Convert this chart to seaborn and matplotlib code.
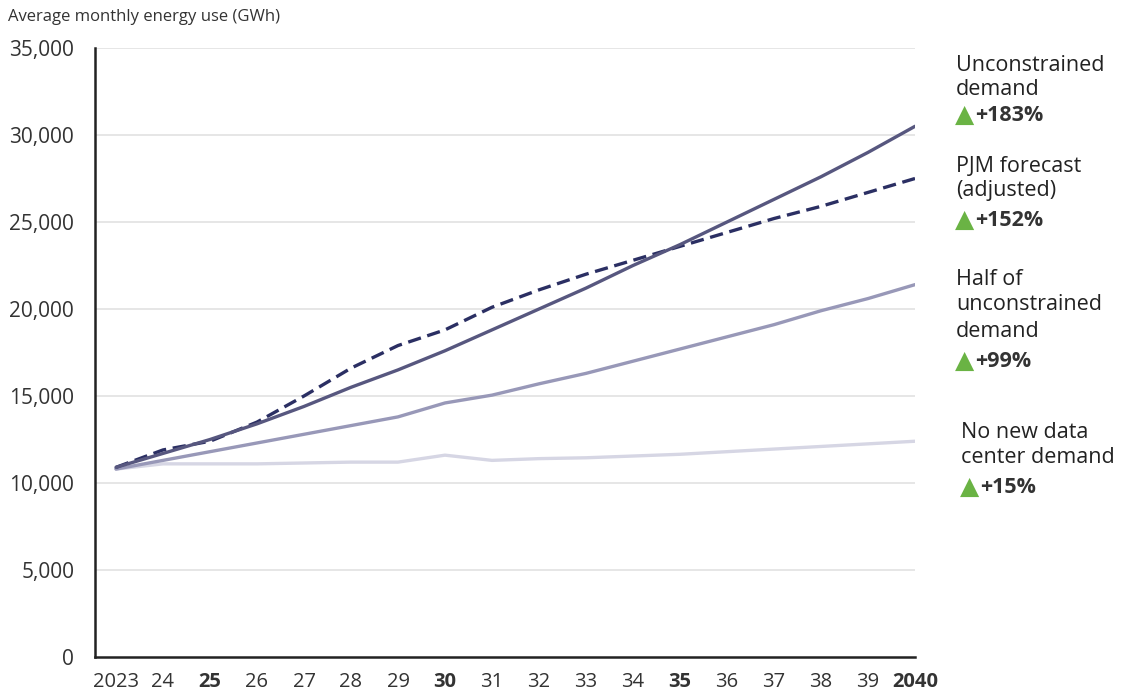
import pandas as pd
import numpy as np
import matplotlib.pyplot as plt
import seaborn as sns

years = list(range(2023, 2041))
unconstrained = [10900, 11700, 12500, 13400, 14400, 15500, 16500, 17600, 18800, 20000,
                 21200, 22500, 23700, 25000, 26300, 27600, 29000, 30500]
pjm_forecast = [10900, 11900, 12400, 13500, 15000, 16600, 17900, 18800, 20100, 21100,
                22000, 22800, 23600, 24400, 25200, 25900, 26700, 27500]
half_demand = [10800, 11300, 11800, 12300, 12800, 13300, 13800, 14600, 15050, 15700,
               16300, 17000, 17700, 18400, 19100, 19900, 20600, 21400]
no_new_dc = [10800, 11100, 11100, 11100, 11150, 11200, 11200, 11600, 11300, 11400,
             11450, 11550, 11650, 11800, 11950, 12100, 12250, 12400]

series_names = ["Unconstrained demand", "PJM forecast (adjusted)",
                "Half of unconstrained demand", "No new data center demand"]
label_lines = [["Unconstrained", "demand"], ["PJM forecast", "(adjusted)"],
               ["Half of", "unconstrained", "demand"], ["No new data", "center demand"]]
changes = ["+183%", "+152%", "+99%", "+15%"]
year_labels = ["2023", "24", "25", "26", "27", "28", "29", "30", "31", "32", "33",
               "34", "35", "36", "37", "38", "39", "2040"]
bold_years = [2025, 2030, 2035, 2040]

colors = {"Unconstrained demand": "#57577f",
          "PJM forecast (adjusted)": "#2b2f63",
          "Half of unconstrained demand": "#9898b8",
          "No new data center demand": "#d6d6e4"}
dashes = {"Unconstrained demand": "",
          "PJM forecast (adjusted)": (4, 2),
          "Half of unconstrained demand": "",
          "No new data center demand": ""}

df = pd.DataFrame({
    "year": years * 4,
    "value": unconstrained + pjm_forecast + half_demand + no_new_dc,
    "series": sum([[s] * len(years) for s in series_names], []),
})

sns.set_style("white")
plt.rcParams['font.family'] = ['Open Sans', 'DejaVu Sans']
text_color = "#333333"

fig = plt.figure(figsize=(11.22, 7.0), dpi=100)
ax = fig.add_axes([95 / 1122, 43 / 700, 820 / 1122, 609 / 700])

# lighter series first so the darker ones sit on top
order = series_names[::-1]
sns.lineplot(data=df, x="year", y="value", hue="series", style="series",
             hue_order=order, style_order=order, palette=colors, dashes=dashes,
             linewidth=2.4, ax=ax, legend=False)

ax.set_xlim(2023 - 21 / 47, 2040)
ax.set_ylim(0, 35000)
ax.set_yticks(np.arange(0, 35001, 5000))
ax.set_yticklabels([f"{v:,}" for v in range(0, 35001, 5000)], fontsize=15, color=text_color)
ax.set_xticks(years)
ax.set_xticklabels(year_labels, fontsize=14.5, color=text_color)
for lbl, yr in zip(ax.get_xticklabels(), years):
    if yr in bold_years:
        lbl.set_fontweight("bold")
ax.tick_params(axis='x', length=0, pad=11)
ax.tick_params(axis='y', length=0, pad=15)
ax.set_xlabel("")
ax.set_ylabel("")

for v in range(5000, 35001, 5000):
    ax.axhline(v, color="#e2e2e2", linewidth=1.2, zorder=0)

for side in ['top', 'right']:
    ax.spines[side].set_visible(False)
for side in ['left', 'bottom']:
    ax.spines[side].set_color("#222222")
    ax.spines[side].set_linewidth(1.8)

fig.text(8 / 1122, 1 - 21 / 700, "Average monthly energy use (GWh)", fontsize=12,
         color=text_color, va="baseline", ha="left")

# right-hand annotations (pixel baselines of each text line)
line_baselines = [[71, 95], [172, 196], [285, 310, 337], [438, 463]]
pct_baselines = [121, 226, 367, 493]
label_x = [956, 956, 956, 961]
for lines, bases, chg, pb, lx in zip(label_lines, line_baselines, changes, pct_baselines, label_x):
    for line, b in zip(lines, bases):
        fig.text(lx / 1122, 1 - b / 700, line, fontsize=15.5, color="#222222",
                 va="baseline", ha="left")
    fig.text((lx - 1) / 1122, 1 - (pb + 1) / 700, "\u25b2", fontsize=18, color="#6ab344",
             va="baseline", ha="left", family=['DejaVu Sans'])
    fig.text((lx + 19) / 1122, 1 - pb / 700, chg, fontsize=15.5, color="#333333",
             fontweight="bold", va="baseline", ha="left")

fig.savefig("out.png", dpi=100)
